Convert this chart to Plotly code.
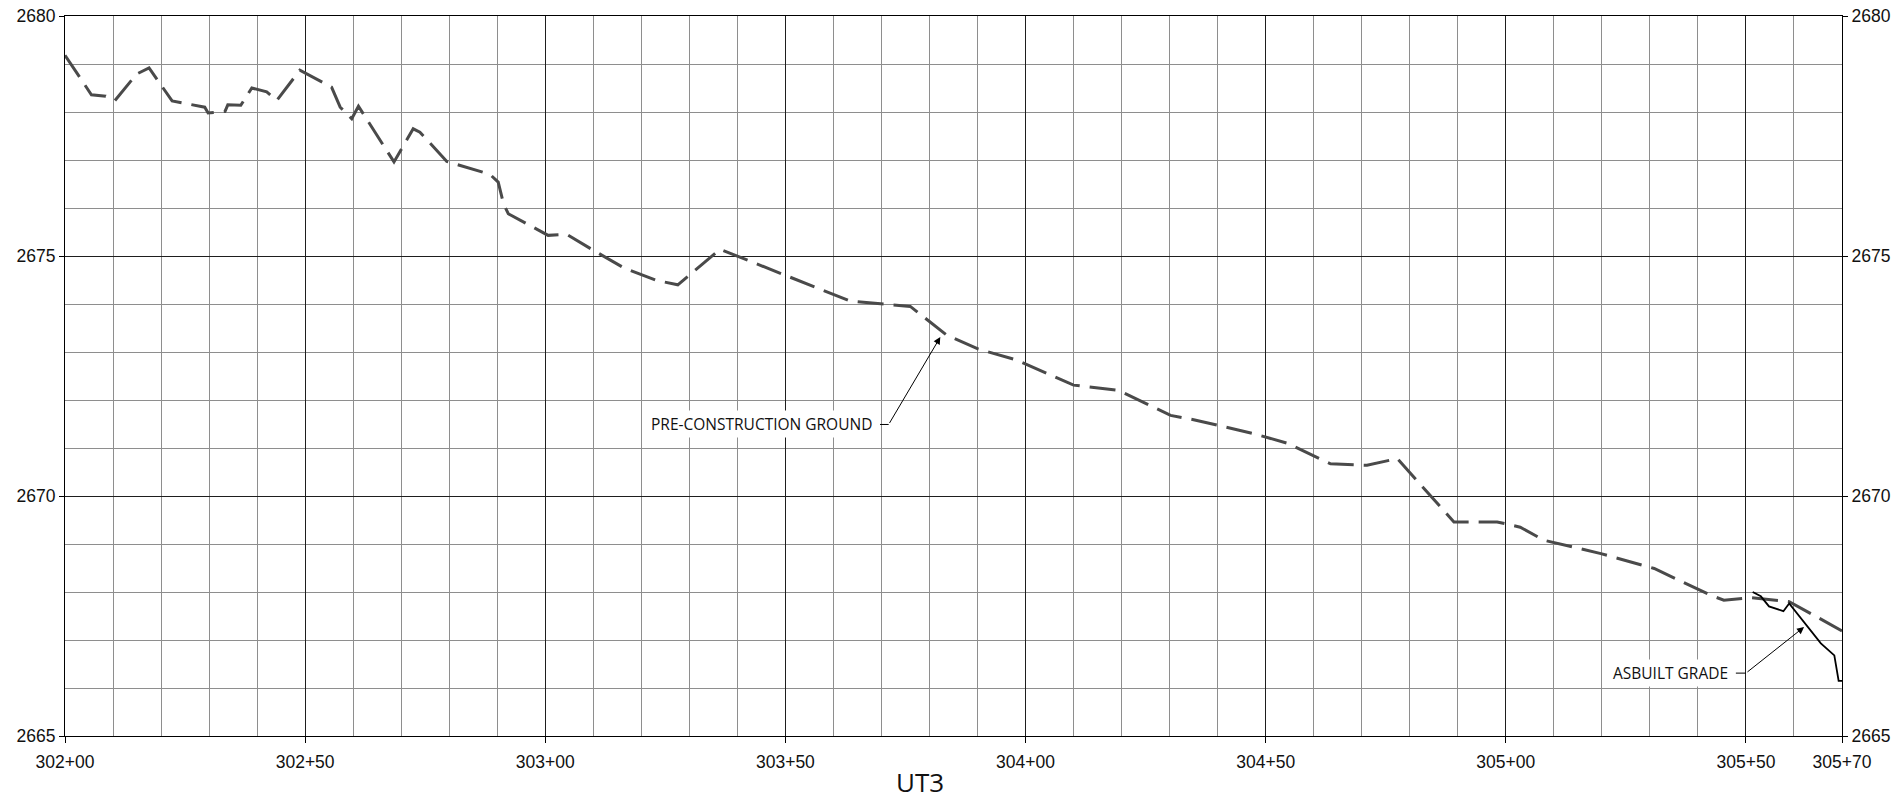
import plotly.graph_objects as go

# UT3 profile: station (ft) vs elevation (ft)
PRE_STA = [30200.0, 30205.5, 30208.5, 30210.4, 30214.9, 30217.5, 30222.3, 30229.1, 30229.8,
           30233.3, 30233.9, 30236.6, 30238.9, 30242.0, 30244.1, 30248.9, 30255.5, 30257.3,
           30259.7, 30261.1, 30268.5, 30272.5, 30273.9, 30279.5, 30288.5, 30290.2, 30291.3,
           30292.3, 30300.6, 30304.5, 30310.0, 30316.6, 30323.2, 30327.6, 30336.4, 30363.5,
           30376.0, 30383.6, 30390.2, 30397.9, 30410.0, 30419.4, 30430.2, 30435.0, 30447.5,
           30454.5, 30463.5, 30471.1, 30477.4, 30489.2, 30498.2, 30503.0, 30507.9, 30519.8,
           30530.9, 30542.7, 30545.4, 30551.1, 30559.0, 30570.0]
PRE_ELEV = [2679.18, 2678.36, 2678.33, 2678.24, 2678.79, 2678.92, 2678.23, 2678.10, 2677.98,
            2678.01, 2678.15, 2678.14, 2678.50, 2678.42, 2678.24, 2678.87, 2678.52, 2678.10,
            2677.86, 2678.12, 2676.96, 2677.65, 2677.58, 2676.97, 2676.70, 2676.54, 2676.09,
            2675.88, 2675.43, 2675.45, 2675.12, 2674.74, 2674.49, 2674.40, 2675.14, 2674.06,
            2673.95, 2673.35, 2673.06, 2672.84, 2672.31, 2672.20, 2671.68, 2671.59, 2671.30,
            2671.10, 2670.67, 2670.64, 2670.78, 2669.46, 2669.46, 2669.35, 2669.08, 2668.80,
            2668.49, 2667.93, 2667.83, 2667.88, 2667.80, 2667.19]

ASB_STA = [30551.4, 30553.1, 30554.8, 30557.8, 30559.0, 30562.5, 30565.6, 30568.4, 30569.3, 30570.0]
ASB_ELEV = [2668.00, 2667.91, 2667.70, 2667.60, 2667.76, 2667.31, 2666.93, 2666.68, 2666.15, 2666.15]

X_TICKS = [30200, 30250, 30300, 30350, 30400, 30450, 30500, 30550, 30570]
Y_TICKS = [2665, 2670, 2675, 2680]
X_RANGE = [30200, 30570]
Y_RANGE = [2665, 2680]

MAJOR = "#1e1e1e"
MINOR = "#8e8e8e"
TICK_FONT = dict(family="Liberation Sans, Arial, sans-serif", size=17.5, color="#111111")
LABEL_FONT = dict(family="Open Sans, sans-serif", size=15.5, color="#111111")


def sta_label(s):
    return f"{s // 100}+{s % 100:02d}"


fig = go.Figure()
fig.add_trace(go.Scatter(x=PRE_STA, y=PRE_ELEV, mode="lines", name="PRE-CONSTRUCTION GROUND",
                         line=dict(color="#4a4a4a", width=3, dash="26px,10px")))
fig.add_trace(go.Scatter(x=ASB_STA, y=ASB_ELEV, mode="lines", name="ASBUILT GRADE",
                         line=dict(color="#000000", width=1.8)))
# invisible copy so the right-hand elevation axis gets drawn
fig.add_trace(go.Scatter(x=PRE_STA, y=PRE_ELEV, yaxis="y2", mode="none", hoverinfo="skip",
                         showlegend=False))


def leader(text, text_x, y, kink_x, tip_x, tip_y):
    # label box, short horizontal tail, then arrow to the line
    fig.add_annotation(x=text_x, y=y, xref="x", yref="y", text=text, showarrow=False,
                       xanchor="right", yanchor="middle", font=LABEL_FONT,
                       bgcolor="white", borderpad=2)
    fig.add_shape(type="line", xref="x", yref="y", x0=text_x + 1.1, x1=kink_x, y0=y, y1=y,
                  line=dict(color="#000000", width=1))
    fig.add_annotation(x=tip_x, y=tip_y, ax=kink_x, ay=y, xref="x", yref="y",
                       axref="x", ayref="y", text="", showarrow=True,
                       arrowhead=2, arrowsize=1.4, arrowwidth=1, arrowcolor="#000000")


leader("PRE-CONSTRUCTION GROUND", 30368.6, 2671.49, 30371.5, 30382.25, 2673.31)
leader("ASBUILT GRADE", 30546.8, 2666.31, 30550.0, 30562.1, 2667.27)

fig.add_annotation(x=0.4814, y=-0.064, xref="paper", yref="paper", text="UT3", showarrow=False,
                   xanchor="center", yanchor="middle",
                   font=dict(family="Open Sans, sans-serif", size=26, color="#111111"))

axis_common = dict(showline=True, linecolor="#000000", linewidth=1.2, ticks="outside",
                   tickcolor="#000000", tickfont=TICK_FONT, zeroline=False, automargin=False)

fig.update_layout(
    width=1893, height=805,
    paper_bgcolor="white", plot_bgcolor="white",
    showlegend=False,
    margin=dict(l=65, r=51, t=16, b=69),
    xaxis=dict(range=X_RANGE, tickvals=X_TICKS, ticktext=[sta_label(s) for s in X_TICKS],
               ticklen=6, ticklabelstandoff=4, showgrid=True, gridcolor=MAJOR, gridwidth=1,
               mirror=True,
               minor=dict(dtick=10, tick0=30200, showgrid=True, gridcolor=MINOR, gridwidth=1, ticks=""),
               **axis_common),
    yaxis=dict(range=Y_RANGE, tickvals=Y_TICKS, ticklen=5, showgrid=True, gridcolor=MAJOR,
               gridwidth=1,
               minor=dict(dtick=1, showgrid=True, gridcolor=MINOR, gridwidth=1, ticks=""),
               **axis_common),
    yaxis2=dict(range=Y_RANGE, tickvals=Y_TICKS, ticklen=5, overlaying="y", side="right",
                showgrid=False, **axis_common),
)

# drop the default 8px body margin so the sheet sits flush with the page
fig.write_html("out.html", config={"displayModeBar": False},
               post_script="document.body.style.margin='0';")
